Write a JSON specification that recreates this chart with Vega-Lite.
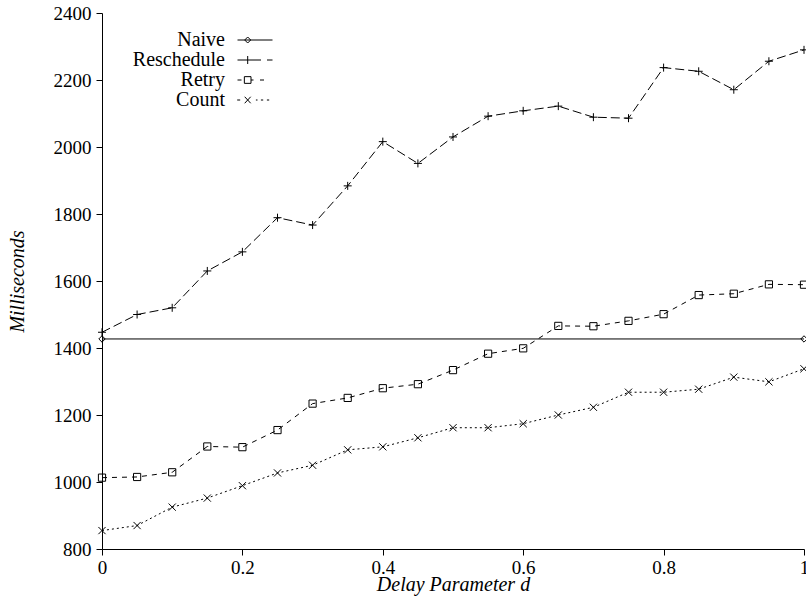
{
  "$schema": "https://vega.github.io/schema/vega-lite/v6.json",
  "width": 702,
  "height": 536,
  "autosize": {"type": "none"},
  "padding": {"left": 102, "top": 13, "right": 2, "bottom": 51},
  "background": "white",
  "config": {
    "view": {"stroke": null},
    "font": "Liberation Serif",
    "style": {
      "guide-label": {"font": "Liberation Serif", "fill": "black"},
      "guide-title": {"font": "Liberation Serif", "fill": "black"}
    },
    "axis": {
      "grid": false,
      "domainColor": "black",
      "domainWidth": 1,
      "tickColor": "black",
      "tickWidth": 1,
      "tickSize": 6,
      "labelColor": "black",
      "labelFont": "Liberation Serif",
      "labelFontSize": 19,
      "titleFont": "Liberation Serif",
      "titleFontSize": 20,
      "titleFontStyle": "italic",
      "titleFontWeight": "normal",
      "titleColor": "black"
    }
  },
  "data": {
    "values": [
      {"series": "Naive", "d": 0, "ms": 1427},
      {"series": "Naive", "d": 1, "ms": 1427},
      {"series": "Reschedule", "d": 0, "ms": 1447},
      {"series": "Reschedule", "d": 0.05, "ms": 1500},
      {"series": "Reschedule", "d": 0.1, "ms": 1520},
      {"series": "Reschedule", "d": 0.15, "ms": 1630},
      {"series": "Reschedule", "d": 0.2, "ms": 1687},
      {"series": "Reschedule", "d": 0.25, "ms": 1789},
      {"series": "Reschedule", "d": 0.3, "ms": 1767},
      {"series": "Reschedule", "d": 0.35, "ms": 1884},
      {"series": "Reschedule", "d": 0.4, "ms": 2016},
      {"series": "Reschedule", "d": 0.45, "ms": 1951},
      {"series": "Reschedule", "d": 0.5, "ms": 2030},
      {"series": "Reschedule", "d": 0.55, "ms": 2092},
      {"series": "Reschedule", "d": 0.6, "ms": 2108},
      {"series": "Reschedule", "d": 0.65, "ms": 2122},
      {"series": "Reschedule", "d": 0.7, "ms": 2089},
      {"series": "Reschedule", "d": 0.75, "ms": 2086},
      {"series": "Reschedule", "d": 0.8, "ms": 2237},
      {"series": "Reschedule", "d": 0.85, "ms": 2226},
      {"series": "Reschedule", "d": 0.9, "ms": 2171},
      {"series": "Reschedule", "d": 0.95, "ms": 2256},
      {"series": "Reschedule", "d": 1, "ms": 2290},
      {"series": "Retry", "d": 0, "ms": 1013},
      {"series": "Retry", "d": 0.05, "ms": 1015},
      {"series": "Retry", "d": 0.1, "ms": 1029},
      {"series": "Retry", "d": 0.15, "ms": 1106},
      {"series": "Retry", "d": 0.2, "ms": 1104},
      {"series": "Retry", "d": 0.25, "ms": 1155},
      {"series": "Retry", "d": 0.3, "ms": 1234},
      {"series": "Retry", "d": 0.35, "ms": 1251},
      {"series": "Retry", "d": 0.4, "ms": 1280},
      {"series": "Retry", "d": 0.45, "ms": 1292},
      {"series": "Retry", "d": 0.5, "ms": 1334},
      {"series": "Retry", "d": 0.55, "ms": 1383},
      {"series": "Retry", "d": 0.6, "ms": 1399},
      {"series": "Retry", "d": 0.65, "ms": 1466},
      {"series": "Retry", "d": 0.7, "ms": 1465},
      {"series": "Retry", "d": 0.75, "ms": 1481},
      {"series": "Retry", "d": 0.8, "ms": 1501},
      {"series": "Retry", "d": 0.85, "ms": 1558},
      {"series": "Retry", "d": 0.9, "ms": 1562},
      {"series": "Retry", "d": 0.95, "ms": 1590},
      {"series": "Retry", "d": 1, "ms": 1589},
      {"series": "Count", "d": 0, "ms": 855},
      {"series": "Count", "d": 0.05, "ms": 870},
      {"series": "Count", "d": 0.1, "ms": 925},
      {"series": "Count", "d": 0.15, "ms": 952},
      {"series": "Count", "d": 0.2, "ms": 989},
      {"series": "Count", "d": 0.25, "ms": 1027},
      {"series": "Count", "d": 0.3, "ms": 1050},
      {"series": "Count", "d": 0.35, "ms": 1096},
      {"series": "Count", "d": 0.4, "ms": 1105},
      {"series": "Count", "d": 0.45, "ms": 1132},
      {"series": "Count", "d": 0.5, "ms": 1162},
      {"series": "Count", "d": 0.55, "ms": 1162},
      {"series": "Count", "d": 0.6, "ms": 1174},
      {"series": "Count", "d": 0.65, "ms": 1200},
      {"series": "Count", "d": 0.7, "ms": 1223},
      {"series": "Count", "d": 0.75, "ms": 1268},
      {"series": "Count", "d": 0.8, "ms": 1268},
      {"series": "Count", "d": 0.85, "ms": 1277},
      {"series": "Count", "d": 0.9, "ms": 1313},
      {"series": "Count", "d": 0.95, "ms": 1299},
      {"series": "Count", "d": 1, "ms": 1338}
    ]
  },
  "encoding": {
    "x": {
      "field": "d",
      "type": "quantitative",
      "scale": {"domain": [0, 1], "nice": false, "zero": false},
      "axis": {
        "title": "Delay Parameter d",
        "values": [0, 0.2, 0.4, 0.6, 0.8, 1],
        "format": "~g",
        "labelFont": "Liberation Serif",
        "labelFontSize": 19,
        "titleFont": "Liberation Serif",
        "titleFontStyle": "italic",
        "titleFontSize": 20,
        "labelPadding": 3,
        "labelFlush": false,
        "titlePadding": -3
      }
    },
    "y": {
      "field": "ms",
      "type": "quantitative",
      "scale": {"domain": [800, 2400], "nice": false, "zero": false},
      "axis": {
        "title": "Milliseconds",
        "values": [800, 1000, 1200, 1400, 1600, 1800, 2000, 2200, 2400],
        "format": "d",
        "labelFont": "Liberation Serif",
        "labelFontSize": 19,
        "titleFont": "Liberation Serif",
        "titleFontStyle": "italic",
        "titleFontSize": 20,
        "labelPadding": 5,
        "labelFlush": false,
        "titlePadding": 26
      }
    }
  },
  "layer": [
    {
      "mark": {"type": "line", "color": "black", "strokeWidth": 1},
      "encoding": {
        "strokeDash": {
          "field": "series",
          "type": "nominal",
          "scale": {
            "domain": ["Naive", "Reschedule", "Retry", "Count"],
            "range": [[1, 0], [9, 4], [5, 5], [2, 3]]
          },
          "legend": null
        }
      }
    },
    {
      "mark": {"type": "point", "filled": false, "color": "black", "strokeWidth": 1, "opacity": 1, "size": 64},
      "encoding": {
        "shape": {
          "field": "series",
          "type": "nominal",
          "scale": {
            "domain": ["Naive", "Reschedule", "Retry", "Count"],
            "range": [
              "M0,-0.8L0.8,0L0,0.8L-0.8,0Z",
              "M-1,0H1M0,-1V1",
              "M-0.9,-0.9H0.9V0.9H-0.9Z",
              "M-0.9,-0.9L0.9,0.9M-0.9,0.9L0.9,-0.9"
            ]
          },
          "legend": null
        }
      }
    },
    {
      "transform": [{"filter": "datum.d > 5"}],
      "mark": {"type": "point", "filled": false, "color": "black", "strokeWidth": 1, "opacity": 1, "size": 100},
      "encoding": {
        "shape": {
          "field": "series",
          "type": "nominal",
          "scale": {
            "domain": ["Naive", "Reschedule", "Retry", "Count"],
            "range": [
              "M-3.5,0H3.5M-1.46,-0.6L-0.86,0L-1.46,0.6L-2.06,0Z",
              "M-3.5,0H1.2M2.4,0H3.5M-1.46,-0.8V0.8",
              "M-3.5,0H-2.7M-2.13,-0.67H-0.8V0.67H-2.13ZM-0.8,0H-0.3M1.0,0H1.8",
              "M-3.56,0H-2.96M-2.06,-0.65L-0.86,0.65M-2.06,0.65L-0.86,-0.65M0.18,0H0.5M1.18,0H1.64M2.38,0H2.84"
            ]
          },
          "legend": {
            "title": null,
            "orient": "none",
            "legendX": 143,
            "legendY": 17,
            "padding": 0,
            "symbolSize": 100,
            "symbolStrokeColor": "black",
            "symbolFillColor": "transparent",
            "symbolStrokeWidth": 1,
            "labelFont": "Liberation Serif",
            "labelFontSize": 20,
            "labelColor": "black",
            "labelAlign": "right",
            "labelOffset": -40,
            "labelLimit": 0,
            "rowPadding": -0.6
          }
        }
      }
    }
  ],
  "resolve": {"scale": {"shape": "independent"}, "legend": {"shape": "independent"}}
}
